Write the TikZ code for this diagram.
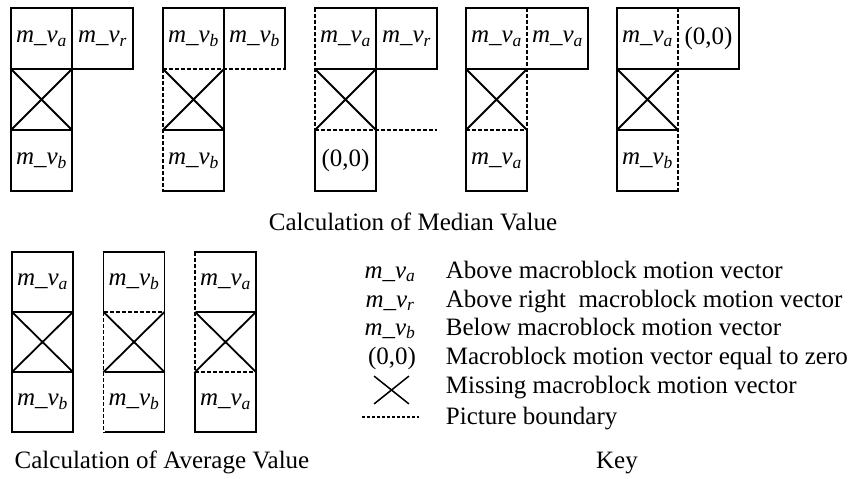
\documentclass[tikz,border=0pt]{standalone}
\usepackage{fontspec}
\setmainfont{Liberation Serif}
\usetikzlibrary{positioning}

\newcommand{\mv}[1]{\textit{m\_v\textsubscript{#1}}}

\begin{document}
\begin{tikzpicture}[%
    x=1pt, y=-1pt,
    font=\fontsize{25}{29}\selectfont,
    line width=1.8pt,
    cell/.style={rectangle, draw, minimum width=61pt, minimum height=61pt, inner sep=0pt, outer sep=0pt},
    avgcell/.style={cell, minimum height=60pt},
    bound/.style={line width=1.4pt, dash pattern=on 4pt off 2pt, preaction={draw=white, solid, line width=2.4pt}},
    capt/.style={anchor=base, inner sep=0pt},
    keysym/.style={anchor=base, inner sep=0pt},
    keytext/.style={anchor=base west, inner sep=0pt},
  ]
  \useasboundingbox (0,0) rectangle (859,479);

  % --- Median value (top row) ---
  \node[cell] (m1a) at (41.5,38.5) {\mv{a}};
  \node[cell, right=0pt of m1a] (m1r) {\mv{r}};
  \node[cell, below=0pt of m1a] (m1x) {};
  \node[cell, below=0pt of m1x] (m1b) {\mv{b}};

  \node[cell] (m2a) at (193.5,38.5) {\mv{b}};
  \node[cell, right=0pt of m2a] (m2r) {\mv{b}};
  \node[cell, below=0pt of m2a] (m2x) {};
  \node[cell, below=0pt of m2x] (m2b) {\mv{b}};

  \node[cell] (m3a) at (345.5,38.5) {\mv{a}};
  \node[cell, right=0pt of m3a] (m3r) {\mv{r}};
  \node[cell, below=0pt of m3a] (m3x) {};
  \node[cell, below=0pt of m3x] (m3b) {(0,0)};

  \node[cell] (m4a) at (496.5,38.5) {\mv{a}};
  \node[cell, right=0pt of m4a] (m4r) {\mv{a}};
  \node[cell, below=0pt of m4a] (m4x) {};
  \node[cell, below=0pt of m4x] (m4b) {\mv{a}};

  \node[cell] (m5a) at (647.5,38.5) {\mv{a}};
  \node[cell, right=0pt of m5a] (m5r) {(0,0)};
  \node[cell, below=0pt of m5a] (m5x) {};
  \node[cell, below=0pt of m5x] (m5b) {\mv{b}};

  % picture boundaries
  \draw[bound] (m2a.south west) -- (m2r.south east);
  \draw[bound] (m2x.north west) -- (m2b.south west);
  \draw[bound] (m3a.north west) -- (m3x.south west);
  \draw[bound] (m3x.south west) -- (m3x.south west -| m3r.east);
  \draw[bound] (m4a.north east) -- (m4x.south east);
  \draw[bound] (m4x.south west) -- (m4x.south east);
  \draw[bound] (m5a.north east) -- (m5b.south east);

  \node[capt] (cm) at (413,230) {Calculation of Median Value};

  % --- Average value (bottom left) ---
  \node[avgcell] (v1a) at (42.5,282) {\mv{a}};
  \node[avgcell, below=0pt of v1a] (v1x) {};
  \node[avgcell, below=0pt of v1x] (v1b) {\mv{b}};

  \node[avgcell] (v2a) at (134,282) {\mv{b}};
  \node[avgcell, below=0pt of v2a] (v2x) {};
  \node[avgcell, below=0pt of v2x] (v2b) {\mv{b}};

  \node[avgcell] (v3a) at (225.5,282) {\mv{a}};
  \node[avgcell, below=0pt of v3a] (v3x) {};
  \node[avgcell, below=0pt of v3x] (v3b) {\mv{a}};

  \draw[bound] (v2x.north west) -- (v2x.north east);
  \draw[bound] (v2x.north west) -- (v2b.south west);
  \draw[bound] (v3a.north west) -- (v3x.south west);
  \draw[bound] (v3x.south west) -- (v3x.south east);

  \node[capt] (ca) at (162,468) {Calculation of Average Value};

  % missing macroblocks
  \draw (m1x.north west) -- (m1x.south east) (m1x.south west) -- (m1x.north east);
  \draw (m2x.north west) -- (m2x.south east) (m2x.south west) -- (m2x.north east);
  \draw (m3x.north west) -- (m3x.south east) (m3x.south west) -- (m3x.north east);
  \draw (m4x.north west) -- (m4x.south east) (m4x.south west) -- (m4x.north east);
  \draw (m5x.north west) -- (m5x.south east) (m5x.south west) -- (m5x.north east);
  \draw (v1x.north west) -- (v1x.south east) (v1x.south west) -- (v1x.north east);
  \draw (v2x.north west) -- (v2x.south east) (v2x.south west) -- (v2x.north east);
  \draw (v3x.north west) -- (v3x.south east) (v3x.south west) -- (v3x.north east);

  % --- Key (bottom right) ---
  \node[keysym] (ka) at (390,278) {\mv{a}};
  \node[keytext] (ta) at (445,278) {Above macroblock motion vector};
  \node[keysym] (kr) at (390,307) {\mv{r}};
  \node[keytext] (tr) at (445,307) {Above right\ \ macroblock motion vector};
  \node[keysym] (kb) at (390,335) {\mv{b}};
  \node[keytext] (tb) at (445,335) {Below macroblock motion vector};
  \node[keysym] (kz) at (392,364) {(0,0)};
  \node[keytext] (tz) at (445,364) {Macroblock motion vector equal to zero};
  \node[minimum width=33pt, minimum height=26pt, inner sep=0pt] (kx) at (391.5,390) {};
  \node[keytext] (tx) at (445,393) {Missing macroblock motion vector};
  \node[minimum width=55pt, inner sep=0pt] (kd) at (390.5,417) {};
  \node[keytext] (td) at (445,424) {Picture boundary};
  \draw[line width=1.5pt] (kx.north west) -- (kx.south east) (kx.south west) -- (kx.north east);
  \draw[line width=1.2pt, dash pattern=on 3pt off 2pt] (kd.west) -- (kd.east);

  \node[capt] (ck) at (617,468) {Key};
\end{tikzpicture}
\end{document}
